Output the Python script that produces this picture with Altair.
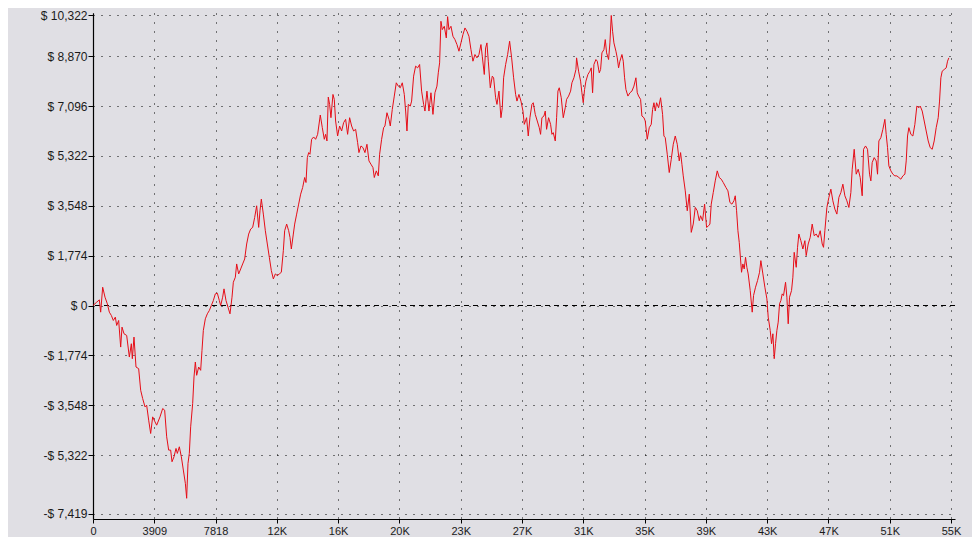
import altair as alt
import pandas as pd

# ---- data ----
trades = [
    0, 234, 404, 489, 617, 766, 915, 1042, 1170, 1297, 1425, 1510, 1637, 1765, 1850, 1978, 2148, 2318, 2445, 2509,
    2615, 2743, 2913, 3041, 3168, 3317, 3423, 3551, 3678, 3806, 3955, 4061, 4274, 4444, 4571, 4699, 4826, 4954, 5039, 5167,
    5294, 5379, 5507, 5634, 5762, 5890, 5974, 6059, 6144, 6229, 6357, 6442, 6527, 6612, 6740, 6867, 6952, 7037, 7165, 7293,
    7420, 7548, 7675, 7803, 7930, 8058, 8143, 8270, 8356, 8483, 8611, 8738, 8866, 8951, 9078, 9163, 9291, 9419, 9546, 9674,
    9801, 9929, 10056, 10184, 10312, 10439, 10567, 10652, 10737, 10864, 10992, 11119, 11247, 11375, 11502, 11630, 11757, 11885, 12012, 12140,
    12225, 12352, 12480, 12565, 12650, 12778, 12863, 12990, 13118, 13245, 13373, 13500, 13585, 13671, 13756,
    13838, 13944, 14072, 14199, 14327, 14497, 14625, 14752, 14837, 14922, 15007, 15092, 15177, 15305, 15390, 15475, 15602, 15730, 15858,
    15985, 16113, 16240, 16368, 16495, 16623, 16751, 16878, 16963, 17091, 17218, 17346, 17473, 17601, 17728, 17856, 17941, 18069, 18196,
    18281, 18409, 18536, 18621, 18749, 18877, 18962, 19089, 19217, 19344, 19472, 19599, 19727, 19855, 19940, 20025, 20110, 20237, 20322,
    20450, 20577, 20705, 20832, 20960, 21088, 21173, 21300, 21428, 21555, 21683, 21810, 21938, 22023, 22108, 22193, 22278, 22406, 22533,
    22618, 22703, 22831, 22958, 23086, 23214, 23341, 23469, 23596, 23724, 23851, 23979, 24106, 24234, 24362, 24489, 24617, 24744, 24829,
    24957, 25042, 25127, 25212, 25340, 25467, 25552, 25680, 25765, 25893, 26020, 26105, 26190, 26318, 26446, 26573, 26701, 26828, 26956,
    27041, 27168, 27296, 27424, 27509,
    27655, 27762, 27868, 27995, 28080, 28208, 28336, 28463, 28548, 28633, 28761, 28846, 28931, 29058, 29186, 29271, 29356, 29484, 29569,
    29654, 29739, 29866, 29994, 30121, 30206, 30334, 30462, 30547, 30674, 30802, 30844, 30972, 31099, 31184, 31269, 31354, 31439, 31567,
    31695, 31780, 31865, 31950, 32077, 32162, 32290, 32375, 32460, 32588, 32673, 32758, 32885, 32970, 33055, 33140, 33225, 33353, 33438,
    33523, 33608, 33736, 33821, 33906, 33991, 34118, 34246, 34373, 34501, 34628, 34714, 34799, 34926, 35011, 35139, 35224, 35351, 35479,
    35606, 35691, 35777, 35862, 35947, 36074, 36202, 36329, 36414, 36499, 36627, 36754, 36882, 37010, 37137, 37265, 37392, 37477, 37562,
    37647, 37775, 37903, 38030, 38158, 38285, 38413, 38540, 38668, 38753, 38880, 39008, 39136, 39263, 39348, 39433, 39561, 39688, 39816,
    39943, 40071, 40199, 40369, 40496, 40624, 40751, 40879, 40964, 41049, 41134, 41219,
    41365, 41450, 41535, 41620, 41705, 41790, 41918, 42046, 42131, 42258, 42386, 42513, 42598, 42726, 42853, 42981, 43066, 43194, 43279,
    43364, 43449, 43534, 43619, 43704, 43789, 43874, 43959, 44044, 44172, 44257, 44342, 44427, 44554, 44639, 44724, 44852, 44937, 45022,
    45149, 45277, 45405, 45490, 45617, 45745, 45872, 46000, 46127, 46255, 46383, 46510, 46595, 46680, 46808, 46935, 47063, 47190, 47318,
    47446, 47573, 47701, 47828, 47956, 48083, 48211, 48338, 48424, 48551, 48679, 48806, 48934, 49061, 49146, 49274, 49401, 49529, 49614,
    49699, 49827, 49954, 50039, 50124, 50252, 50379, 50507, 50592, 50677, 50762, 50890, 51017, 51145, 51272, 51400, 51527, 51655, 51783,
    51868, 51953, 52038, 52165, 52293, 52420, 52548, 52676, 52761, 52888, 53016, 53143, 53271, 53398, 53526, 53653, 53781, 53909, 53994,
    54079, 54164, 54291, 54419, 54504, 54589,
]
equity = [
    0, 118, 201, -237, 651, 296, 59, -237, -355, -532, -414, -710, -532, -1479, -769, -1006, -1065, -1834, -1360, -1893,
    -1124, -2189, -2248, -3017, -3312, -3608, -3549, -4081, -4555, -3963, -4141, -4259, -3963, -3667, -3726, -4673, -5146, -5146, -5560, -5383,
    -5087, -5264, -5028, -5383, -5856, -6329, -6861, -5619, -5264, -4318, -3490, -2543, -2011, -2484, -2189, -2307, -1597, -887, -473, -296,
    -177, 0, 177, 414, 438, 177, 0, 296, 592, 177, -59, -296, 296, 828, 1006, 1479, 1124, 1301, 1479, 1656,
    2189, 2543, 2721, 2780, 3135, 3549, 2780, 3372, 3786, 3253, 2662, 2189, 1715, 1242, 946, 1124, 1065, 1124, 1183, 1952,
    2662, 2898, 2662, 2425, 2011, 2543, 2898, 3253, 3608, 3963, 4200, 4555, 4377, 5264, 5442,
    5383, 5915, 5998, 5915, 6092, 6779, 6329, 5915, 6092, 5856, 7417, 7157, 6684, 7512, 7335, 6566, 6033, 6388, 6211,
    6507, 6625, 6092, 6684, 6388, 6211, 6270, 5797, 5442, 5678, 5619, 5442, 5738, 5146, 5028, 4909, 4555, 4791, 4614,
    5383, 5915, 6329, 6388, 6861, 6625, 6388, 6980, 7453, 7926, 7808, 7749, 7926, 7512, 6921, 6211, 7157, 7098, 7275,
    8163, 8518, 8458, 8577, 7630, 7157, 6921, 7630, 6921, 7571, 6802, 7571, 7808, 8281, 8636, 10115, 9819, 9937, 9523,
    10280, 9819, 9937, 9582, 9464, 9287, 9050, 9346, 9641, 9878, 9760, 9582, 9109, 8695, 8932, 8814, 8932, 9287, 8873,
    8222, 9168, 9346, 8695, 7749, 8163, 8104, 7394, 7157, 7630, 6684, 7039, 8104, 8577, 8932, 9405, 8814, 8104, 7512,
    7275, 7512, 7275, 6921, 6447,
    6684, 6033, 6684, 7157, 7216, 6802, 6566, 6329, 6092, 6684, 6743, 6921, 6270, 6684, 6447, 6092, 6152, 5856, 6684,
    7630, 7749, 7394, 6684, 7039, 7335, 7453, 7630, 7926, 8104, 8399, 8813, 8340, 7985, 7571, 7216, 7690, 7985, 8222,
    8340, 8458, 7571, 8577, 8754, 8695, 8281, 8399, 8991, 9109, 9464, 8991, 8754, 9346, 10322, 9760, 9346, 9050, 8814,
    8458, 8695, 8932, 8695, 8104, 7690, 7453, 7571, 7630, 7808, 8104, 7571, 7453, 7335, 6743, 6684, 6566, 5915, 6329,
    6447, 6980, 7216, 6921, 7216, 7039, 7394, 6802, 6033, 5974, 5383, 4732, 5205, 5738, 6033, 5738, 5146, 5442, 5028,
    4614, 4081, 3372, 3963, 2603, 2898, 3490, 3372, 3017, 3194, 3017, 3608, 2780, 2839, 2898, 3608, 4022, 4436, 4791,
    4555, 4495, 4377, 4200, 4081, 3667, 3608, 3726, 3904, 3372, 2662, 2248,
    1183, 1479, 1301, 1715, 1360, 1124, 532, -237, 355, 651, 887, 1183, 1597, 1124, 651, 237, -414, -887, -1360,
    -1006, -1893, -1360, -887, -592, 59, 177, 414, 355, 828, 296, -651, 296, 532, 1006, 1893, 1360, 2070, 2543,
    2307, 2011, 2307, 1775, 2189, 2425, 2898, 2484, 2543, 2425, 2662, 2189, 2070, 2662, 3490, 3845, 4141, 3726, 3431,
    3253, 3845, 4022, 4318, 3904, 3726, 3490, 4022, 4850, 5560, 4673, 4850, 4555, 3904, 5560, 5678, 5560, 4673, 4436,
    5087, 5264, 5146, 4673, 5856, 5974, 6270, 6625, 6092, 5619, 4969, 4791, 4673, 4614, 4614, 4555, 4495, 4614, 4673,
    5146, 6033, 6329, 6092, 6033, 6447, 7098, 7039, 7098, 6921, 6566, 6211, 5856, 5619, 5560, 5856, 6329, 6684, 7275,
    8104, 8340, 8399, 8458, 8695, 8814,
]

x_ticks = [0, 3909, 7818, 11727, 15636, 19545, 23454, 27363, 31272, 35181, 39090, 42999, 46908, 50817, 54726]
x_labels = ["0", "3909", "7818", "12K", "16K", "20K", "23K", "27K", "31K", "35K", "39K", "43K", "47K", "51K", "55K"]
y_ticks = [-7419, -5322, -3548, -1774, 0, 1774, 3548, 5322, 7096, 8870, 10322]
y_labels = ["-$ 7,419", "-$ 5,322", "-$ 3,548", "-$ 1,774", "$ 0", "$ 1,774", "$ 3,548",
            "$ 5,322", "$ 7,096", "$ 8,870", "$ 10,322"]

df = pd.DataFrame({"trade": trades, "equity": equity})
zero_df = pd.DataFrame({"equity": [0]})


def label_expr(labels, values):
    lab = ",".join("'" + s + "'" for s in labels)
    val = ",".join(str(v) for v in values)
    return "[" + lab + "][indexof([" + val + "], datum.value)]"


FONT = "Liberation Sans"

x_axis = alt.Axis(
    values=x_ticks, labelExpr=label_expr(x_labels, x_ticks), title=None,
    grid=True, gridColor="#000000", gridDash=[1, 8], gridWidth=1, gridOpacity=1,
    domainColor="#000000", domainWidth=1.2, tickColor="#000000", tickSize=4,
    labelFont=FONT, labelFontSize=11, labelColor="#1a1a1a", labelPadding=2,
    labelFlush=False, labelOverlap=False, labelBound=False,
)
y_axis = alt.Axis(
    values=y_ticks, labelExpr=label_expr(y_labels, y_ticks), title=None,
    grid=True, gridColor="#000000", gridDash=[1, 7], gridWidth=1, gridOpacity=1,
    domainColor="#000000", domainWidth=1.2, tickColor="#000000", tickSize=5,
    labelFont=FONT, labelFontSize=12, labelColor="#1a1a1a", labelPadding=1,
    labelOverlap=False, labelBound=False,
)

x_scale = alt.Scale(domain=[0, 54980], nice=False, zero=False)
y_scale = alt.Scale(domain=[-7598, 10410], nice=False, zero=False)

line = alt.Chart(df).mark_line(color="#E60D17", strokeWidth=1, clip=True).encode(
    x=alt.X("trade:Q", scale=x_scale, axis=x_axis),
    y=alt.Y("equity:Q", scale=y_scale, axis=y_axis),
)

zero_rule = alt.Chart(zero_df).mark_rule(color="#000000", strokeWidth=1, strokeDash=[5, 4]).encode(
    y=alt.Y("equity:Q", scale=y_scale, axis=y_axis),
)

chart = (
    alt.layer(zero_rule, line)
    .properties(
        width=862, height=506,
        autosize=alt.AutoSizeParams(type="none"),
        padding={"left": 85, "top": 5, "right": 17, "bottom": 18},
        background="#E0DFE4",
    )
    .configure_view(stroke=None)
)

chart.save("out.html", embed_options={"renderer": "svg", "actions": False})
